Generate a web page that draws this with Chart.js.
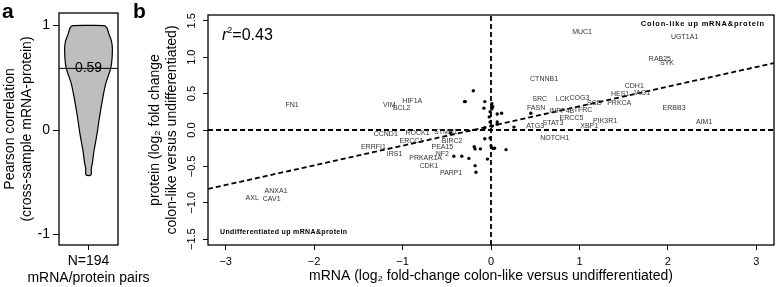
<!DOCTYPE html>
<html>
<head>
<meta charset="utf-8">
<script src="https://cdn.jsdelivr.net/npm/chart.js@4.4.1/dist/chart.umd.min.js"></script>
<style>
  html, body { margin: 0; padding: 0; background: #fff; }
  #wrap { position: relative; width: 778px; height: 287px; overflow: hidden; font-family: "Liberation Sans", Arial, sans-serif; }
  canvas { position: absolute; left: 0; top: 0; }
  .panel { position: absolute; font-size: 21px; font-weight: bold; line-height: 1; }
</style>
</head>
<body>
<div id="wrap">
  <canvas id="violin" width="778" height="287"></canvas>
  <canvas id="scatter" width="778" height="287"></canvas>
  <div class="panel" style="left:2px;top:0px">a</div>
  <div class="panel" style="left:133px;top:0px">b</div>
</div>
<script>
const FONT = "'Liberation Sans', Arial, sans-serif";

// panel a - violin of per-gene Pearson r (outline)
const violinY    = [-0.43, -0.37, -0.3, -0.21, -0.1, 0, 0.1, 0.27, 0.44, 0.6, 0.76, 0.85, 0.92, 0.98, 1.0];
const violinHalf = [0.085, 0.095, 0.14, 0.18, 0.25, 0.31, 0.36, 0.46, 0.58, 0.76, 0.81, 0.78, 0.69, 0.62, 0.54];
const medianR = 0.59;
const violinTicks = [-1, 0, 1];
const violinCaption = ['N=194', 'mRNA/protein pairs'];

// panel b - mRNA vs protein fold change
const geneNames = ['MUC1', 'UGT1A1', 'RAB25', 'SYK', 'CDH1', 'HES1', 'JAG1', 'PRKCA', 'SCD', 'ERBB3',
  'AIM1', 'PIK3R1', 'XBP1', 'ERCC5', 'LCK', 'COG3', 'SRC', 'FASN', 'INPP4B', 'TFRC',
  'STAT3', 'ATG3', 'NOTCH1', 'CTNNB1', 'HIF1A', 'BCL2', 'VIM', 'FN1', 'CCND1', 'ROCK1',
  'STMN1', 'ERCC1', 'BIRC2', 'PEA15', 'ERRFI1', 'IRS1', 'PRKAR1A', 'NF2', 'CDK1', 'PARP1',
  'ANXA1', 'AXL', 'CAV1'];
const geneX = [1.03, 2.19, 1.91, 1.99, 1.62, 1.46, 1.70, 1.45, 1.17, 2.07,
  2.41, 1.29, 1.11, 0.91, 0.81, 1.00, 0.55, 0.51, 0.80, 1.04,
  0.70, 0.50, 0.72, 0.60, -0.89, -1.01, -1.15, -2.25, -1.19, -0.83,
  -0.51, -0.90, -0.44, -0.55, -1.33, -1.09, -0.74, -0.55, -0.70, -0.45,
  -2.43, -2.70, -2.48];
const geneY = [1.35, 1.28, 0.98, 0.92, 0.61, 0.49, 0.51, 0.37, 0.37, 0.30,
  0.11, 0.12, 0.06, 0.17, 0.43, 0.44, 0.42, 0.30, 0.26, 0.27,
  0.10, 0.06, -0.11, 0.70, 0.40, 0.30, 0.34, 0.34, -0.055, -0.04,
  -0.03, -0.15, -0.15, -0.23, -0.23, -0.33, -0.39, -0.33, -0.50, -0.59,
  -0.84, -0.94, -0.95];
const dotX = [-0.20, -0.29, -0.30, -0.07, -0.08, 0.01, 0.02, 0.01, -0.01, 0.07,
  0.12, -0.02, -0.01, 0.07, 0.26, 0.07, -0.07, 0.01, 0.45, -0.46,
  -0.07, -0.01, -0.19, -0.18, -0.12, 0.00, 0.02, 0.04, 0.17, -0.33,
  -0.25, -0.04, -0.18, -0.17, -0.42];
const dotY = [0.54, 0.39, 0.39, 0.39, 0.30, 0.36, 0.32, 0.29, 0.25, 0.22,
  0.23, 0.18, 0.11, 0.11, 0.04, 0.08, 0.03, 0.05, 0.23, -0.04,
  -0.12, -0.11, -0.23, -0.26, -0.26, -0.22, -0.25, -0.25, -0.27, -0.36,
  -0.39, -0.40, -0.49, -0.58, -0.36];
const fitX = [-3.2, 3.2];
const fitY = [-0.81, 0.92];
const bXTicks = [-3, -2, -1, 0, 1, 2, 3];
const bYTicks = [-1.5, -1, -0.5, 0, 0.5, 1, 1.5];
const bXRange = [-3.2, 3.2];
const bYRange = [-1.58, 1.58];

const minus = v => (v < 0 ? '\u2212' : '');

const frame = {
  id: 'frame',
  afterDatasetsDraw(chart) {
    const a = chart.chartArea, ctx = chart.ctx;
    ctx.save();
    ctx.strokeStyle = '#000';
    ctx.lineWidth = 1.3;
    ctx.strokeRect(a.left, a.top, a.right - a.left, a.bottom - a.top);
    ctx.restore();
  }
};

// ---------- panel a ----------
const leftPts = violinY.map((y, i) => ({ x: -violinHalf[i], y }));
const rightPts = violinY.map((y, i) => ({ x: violinHalf[i], y }));
const outlinePts = rightPts.slice().reverse().concat(leftPts, [rightPts[rightPts.length - 1]]);

// median value on the line, plus the two-line caption under the single x tick
const violinText = {
  id: 'violinText',
  afterDraw(chart) {
    const ctx = chart.ctx;
    const cx = chart.scales.x.getPixelForValue(0);
    ctx.save();
    ctx.font = `14px ${FONT}`;
    ctx.fillStyle = '#000';
    ctx.textAlign = 'center';
    ctx.textBaseline = 'middle';
    ctx.fillText(medianR.toFixed(2), cx, chart.scales.y.getPixelForValue(medianR));
    const b = chart.chartArea.bottom;
    ctx.fillText(violinCaption[0], cx, b + 16);
    ctx.fillText(violinCaption[1], cx, b + 33);
    ctx.restore();
  }
};

new Chart(document.getElementById('violin'), {
  type: 'line',
  data: {
    datasets: [
      { data: outlinePts, borderColor: '#000', borderWidth: 1.2, pointRadius: 0, fill: false, tension: 0.3 },
      { data: [{ x: -1, y: medianR }, { x: 1, y: medianR }], borderColor: '#000', borderWidth: 1, pointRadius: 0, fill: false },
      { data: leftPts, borderColor: 'transparent', borderWidth: 0, pointRadius: 0, backgroundColor: '#bebebe', fill: '+1', tension: 0.3 },
      { data: rightPts, borderColor: 'transparent', borderWidth: 0, pointRadius: 0, fill: false, tension: 0.3 }
    ]
  },
  options: {
    indexAxis: 'y',
    responsive: false,
    animation: false,
    layout: { padding: { left: 0, top: 13, right: 660, bottom: 0 } },
    plugins: { legend: { display: false }, tooltip: { enabled: false } },
    scales: {
      x: {
        type: 'linear', min: -1, max: 1,
        afterBuildTicks: s => { s.ticks = [{ value: 0 }]; },
        afterFit: s => { s.height = 42; },
        grid: { drawOnChartArea: false, drawTicks: true, tickLength: 5, color: '#000' },
        border: { display: false },
        ticks: { callback: () => '', padding: 0 }
      },
      y: {
        type: 'linear', min: -1.1, max: 1.12,
        afterBuildTicks: s => { s.ticks = violinTicks.map(v => ({ value: v })); },
        afterFit: s => { s.width = 59; },
        grid: { drawOnChartArea: false, drawTicks: true, tickLength: 6, color: '#000' },
        border: { display: false },
        ticks: { color: '#000', font: { family: FONT, size: 14 }, padding: 3, autoSkip: false, callback: v => String(v) },
        title: { display: true, text: ['Pearson correlation', '(cross-sample mRNA-protein)'], color: '#000',
          font: { family: FONT, size: 14 }, padding: { top: 1.5, bottom: 0 } }
      }
    }
  },
  plugins: [frame, violinText]
});

// ---------- panel b ----------
const annotations = {
  id: 'annotations',
  afterDatasetsDraw(chart) {
    const a = chart.chartArea, ctx = chart.ctx;
    const meta = chart.getDatasetMeta(1);
    ctx.save();
    ctx.fillStyle = '#333';
    ctx.font = `7px ${FONT}`;
    ctx.textAlign = 'center';
    ctx.textBaseline = 'middle';
    meta.data.forEach((pt, i) => ctx.fillText(geneNames[i], pt.x, pt.y));

    ctx.fillStyle = '#000';
    ctx.font = `bold 7.5px ${FONT}`;
    ctx.letterSpacing = '0.8px';
    ctx.textAlign = 'right';
    ctx.fillText('Colon-like up mRNA&protein', a.right - 9, a.top + 9);
    ctx.font = `bold 7px ${FONT}`;
    ctx.letterSpacing = '0.35px';
    ctx.textAlign = 'left';
    ctx.fillText('Undifferentiated up mRNA&protein', a.left + 12, a.bottom - 13);
    ctx.letterSpacing = '0px';

    ctx.textBaseline = 'alphabetic';
    let x = a.left + 14;
    const base = a.top + 25;
    ctx.font = `italic 16px ${FONT}`;
    ctx.fillText('r', x, base);
    x += ctx.measureText('r').width;
    ctx.font = `9px ${FONT}`;
    ctx.fillText('2', x, base - 7);
    x += ctx.measureText('2').width;
    ctx.font = `16px ${FONT}`;
    ctx.fillText('=0.43', x, base);
    ctx.restore();
  }
};

const dashed = { showLine: true, borderColor: '#000', borderWidth: 1.8, borderDash: [5, 3], pointRadius: 0, fill: false };

new Chart(document.getElementById('scatter'), {
  type: 'scatter',
  data: {
    datasets: [
      { data: dotX.map((x, i) => ({ x, y: dotY[i] })), pointRadius: 1.7, backgroundColor: '#000', borderWidth: 0 },
      { data: geneX.map((x, i) => ({ x, y: geneY[i] })), pointRadius: 0 },
      Object.assign({ data: [{ x: 0, y: bYRange[0] }, { x: 0, y: bYRange[1] }] }, dashed),
      Object.assign({ data: [{ x: bXRange[0], y: 0 }, { x: bXRange[1], y: 0 }] }, dashed),
      Object.assign({ data: fitX.map((x, i) => ({ x, y: fitY[i] })) }, dashed)
    ]
  },
  options: {
    responsive: false,
    animation: false,
    layout: { padding: { left: 130, top: 15, right: 2, bottom: 0 } },
    plugins: { legend: { display: false }, tooltip: { enabled: false } },
    scales: {
      x: {
        type: 'linear', min: bXRange[0], max: bXRange[1],
        afterBuildTicks: s => { s.ticks = bXTicks.map(v => ({ value: v })); },
        afterFit: s => { s.height = 42; },
        grid: { drawOnChartArea: false, drawTicks: true, tickLength: 5, color: '#000' },
        border: { display: false },
        ticks: { color: '#000', font: { family: FONT, size: 11 }, padding: 5, autoSkip: false, maxRotation: 0,
          callback: v => minus(v) + Math.abs(v) },
        title: { display: true, text: 'mRNA (log\u2082 fold-change colon-like versus undifferentiated)', color: '#000',
          font: { family: FONT, size: 14 }, padding: { top: 0, bottom: 2 } }
      },
      y: {
        type: 'linear', min: bYRange[0], max: bYRange[1],
        afterBuildTicks: s => { s.ticks = bYTicks.map(v => ({ value: v })); },
        afterFit: s => { s.width = 78; },
        grid: { drawOnChartArea: false, drawTicks: true, tickLength: 5, color: '#000' },
        border: { display: false },
        ticks: { color: '#000', font: { family: FONT, size: 11 }, padding: 0, autoSkip: false,
          minRotation: 90, maxRotation: 90, crossAlign: 'center',
          callback: v => minus(v) + Math.abs(v).toFixed(1) },
        title: { display: true, text: ['protein (log\u2082 fold change', 'colon-like versus undifferentiated)'], color: '#000',
          font: { family: FONT, size: 14 }, padding: { top: 17, bottom: 0 } }
      }
    }
  },
  plugins: [frame, annotations]
});
</script>
</body>
</html>
